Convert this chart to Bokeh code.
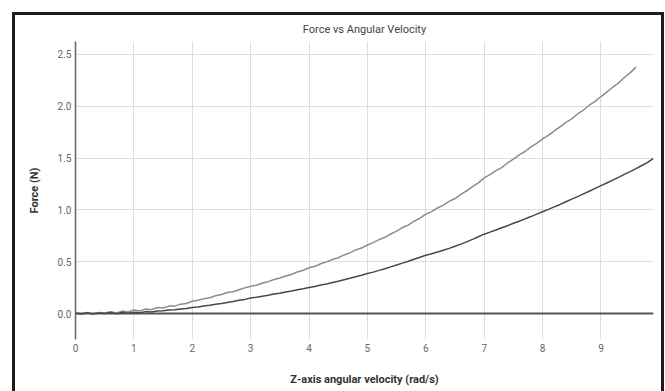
from bokeh.plotting import figure
from bokeh.models import Range1d, FixedTicker, Span, PrintfTickFormatter
from bokeh.embed import file_html
from bokeh.resources import INLINE

# ---- data ----
upper_x = [0.0, 0.1, 0.2, 0.3, 0.4, 0.5, 0.6, 0.7, 0.8, 0.9,
           1.0, 1.1, 1.2, 1.3, 1.4, 1.5, 1.6, 1.7, 1.8, 1.9,
           2.0, 2.1, 2.2, 2.3, 2.4, 2.5, 2.6, 2.7, 2.8, 2.9,
           3.0, 3.1, 3.2, 3.3, 3.4, 3.5, 3.6, 3.7, 3.8, 3.9,
           4.0, 4.1, 4.2, 4.3, 4.4, 4.5, 4.6, 4.7, 4.8, 4.9,
           5.0, 5.1, 5.2, 5.3, 5.4, 5.5, 5.6, 5.7, 5.8, 5.9,
           6.0, 6.1, 6.2, 6.3, 6.4, 6.5, 6.6, 6.7, 6.8, 6.9,
           7.0, 7.1, 7.2, 7.3, 7.4, 7.5, 7.6, 7.7, 7.8, 7.9,
           8.0, 8.1, 8.2, 8.3, 8.4, 8.5, 8.6, 8.7, 8.8, 8.9,
           9.0, 9.1, 9.2, 9.3, 9.4, 9.5, 9.6]
upper_force = [0.008, -0.004, 0.011, -0.004, 0.010, 0.006, 0.018, 0.005, 0.024, 0.016,
               0.035, 0.026, 0.044, 0.038, 0.059, 0.054, 0.072, 0.072, 0.091, 0.098,
               0.119, 0.129, 0.144, 0.153, 0.173, 0.185, 0.203, 0.211, 0.230, 0.248,
               0.263, 0.274, 0.295, 0.308, 0.329, 0.343, 0.363, 0.377, 0.402, 0.418,
               0.442, 0.456, 0.481, 0.499, 0.522, 0.539, 0.566, 0.586, 0.614, 0.632,
               0.662, 0.685, 0.714, 0.736, 0.768, 0.795, 0.830, 0.854, 0.891, 0.921,
               0.959, 0.984, 1.019, 1.047, 1.083, 1.110, 1.151, 1.185, 1.224, 1.261,
               1.309, 1.340, 1.380, 1.408, 1.453, 1.491, 1.532, 1.564, 1.608, 1.642,
               1.685, 1.719, 1.763, 1.801, 1.845, 1.878, 1.926, 1.964, 2.010, 2.047,
               2.094, 2.136, 2.184, 2.224, 2.278, 2.322, 2.378]

lower_x = [0.0, 0.1, 0.2, 0.3, 0.4, 0.5, 0.6, 0.7, 0.8, 0.9,
           1.0, 1.1, 1.2, 1.3, 1.4, 1.5, 1.6, 1.7, 1.8, 1.9,
           2.0, 2.1, 2.2, 2.3, 2.4, 2.5, 2.6, 2.7, 2.8, 2.9,
           3.0, 3.1, 3.2, 3.3, 3.4, 3.5, 3.6, 3.7, 3.8, 3.9,
           4.0, 4.1, 4.2, 4.3, 4.4, 4.5, 4.6, 4.7, 4.8, 4.9,
           5.0, 5.1, 5.2, 5.3, 5.4, 5.5, 5.6, 5.7, 5.8, 5.9,
           6.0, 6.1, 6.2, 6.3, 6.4, 6.5, 6.6, 6.7, 6.8, 6.9,
           7.0, 7.1, 7.2, 7.3, 7.4, 7.5, 7.6, 7.7, 7.8, 7.9,
           8.0, 8.1, 8.2, 8.3, 8.4, 8.5, 8.6, 8.7, 8.8, 8.9,
           9.0, 9.1, 9.2, 9.3, 9.4, 9.5, 9.6, 9.7, 9.8, 9.9]
lower_force = [0.004, -0.003, 0.009, -0.005, 0.006, 0.001, 0.010, -0.002, 0.011, 0.003,
               0.014, 0.008, 0.019, 0.015, 0.025, 0.028, 0.034, 0.038, 0.045, 0.050,
               0.058, 0.064, 0.073, 0.080, 0.090, 0.097, 0.107, 0.116, 0.128, 0.137,
               0.150, 0.158, 0.168, 0.177, 0.188, 0.197, 0.209, 0.218, 0.230, 0.239,
               0.252, 0.262, 0.275, 0.286, 0.300, 0.312, 0.327, 0.340, 0.355, 0.369,
               0.386, 0.400, 0.417, 0.433, 0.451, 0.469, 0.487, 0.505, 0.524, 0.543,
               0.562, 0.578, 0.595, 0.611, 0.629, 0.649, 0.670, 0.692, 0.716, 0.741,
               0.766, 0.786, 0.806, 0.828, 0.848, 0.871, 0.891, 0.914, 0.936, 0.960,
               0.982, 1.005, 1.029, 1.053, 1.079, 1.104, 1.128, 1.155, 1.180, 1.208,
               1.234, 1.260, 1.287, 1.314, 1.343, 1.370, 1.398, 1.429, 1.459, 1.498]

x_ticks = [0, 1, 2, 3, 4, 5, 6, 7, 8, 9]
y_ticks = [0.0, 0.5, 1.0, 1.5, 2.0, 2.5]
y_grid = [0.5, 1.0, 1.5, 2.0, 2.5]

FONT = "Roboto"

p = figure(width=665, height=391, output_backend="svg", toolbar_location=None,
           x_range=Range1d(0, 9.9), y_range=Range1d(-0.25, 2.625),
           title="Force vs Angular Velocity",
           min_border_left=75, min_border_right=12, min_border_top=41, min_border_bottom=52)

# transparent canvas border so the page background (black frame) shows through
p.background_fill_color = "white"
p.border_fill_color = None
p.outline_line_color = None
frame_css = ("linear-gradient(#1c1c1c,#1c1c1c) 12px 12px / 3px 379px no-repeat, "
             "linear-gradient(#1c1c1c,#1c1c1c) 12px 12px / 652px 3px no-repeat, "
             "linear-gradient(#1c1c1c,#1c1c1c) 661px 12px / 3px 379px no-repeat, white")
p.styles = {"background": frame_css}

p.title.align = "center"
p.title.text_font = FONT
p.title.text_font_size = "11px"
p.title.text_font_style = "normal"
p.title.text_color = "#444444"
p.title.standoff = 12

# x axis
xa = p.xaxis[0]
xa.ticker = FixedTicker(ticks=x_ticks)
xa.axis_line_color = None
xa.major_tick_line_color = None
xa.minor_tick_line_color = None
xa.major_tick_out = 0
xa.major_tick_in = 0
xa.minor_tick_out = 0
xa.major_label_text_font = FONT
xa.major_label_text_font_size = "10px"
xa.major_label_text_color = "#666666"
xa.major_label_standoff = 4
xa.axis_label = "Z-axis angular velocity (rad/s)"
xa.axis_label_text_font = FONT
xa.axis_label_text_font_size = "11px"
xa.axis_label_text_font_style = "bold"
xa.axis_label_text_color = "#333333"
xa.axis_label_standoff = 18

# y axis
ya = p.yaxis[0]
ya.ticker = FixedTicker(ticks=y_ticks)
ya.formatter = PrintfTickFormatter(format="%.1f")
ya.axis_line_color = "#666666"
ya.axis_line_width = 1.5
ya.major_tick_line_color = None
ya.minor_tick_line_color = None
ya.major_tick_out = 0
ya.major_tick_in = 0
ya.minor_tick_out = 0
ya.major_label_text_font = FONT
ya.major_label_text_font_size = "10px"
ya.major_label_text_color = "#666666"
ya.major_label_standoff = 4
ya.axis_label = "Force (N)"
ya.axis_label_text_font = FONT
ya.axis_label_text_font_size = "11px"
ya.axis_label_text_font_style = "bold"
ya.axis_label_text_color = "#333333"
ya.axis_label_standoff = 14

# grids
p.xgrid.ticker = FixedTicker(ticks=x_ticks[1:])
p.xgrid.grid_line_color = "#dddddd"
p.ygrid.ticker = FixedTicker(ticks=y_grid)
p.ygrid.grid_line_color = "#dddddd"

zero = Span(location=0, dimension="width", line_color="#555555", line_width=2, level="underlay")
p.add_layout(zero)

p.line(upper_x, upper_force, line_color="#8c8c8c", line_width=1.5)
p.line(lower_x, lower_force, line_color="#474747", line_width=1.5)

html = file_html(p, INLINE)
open("out.html", "w").write(html)
